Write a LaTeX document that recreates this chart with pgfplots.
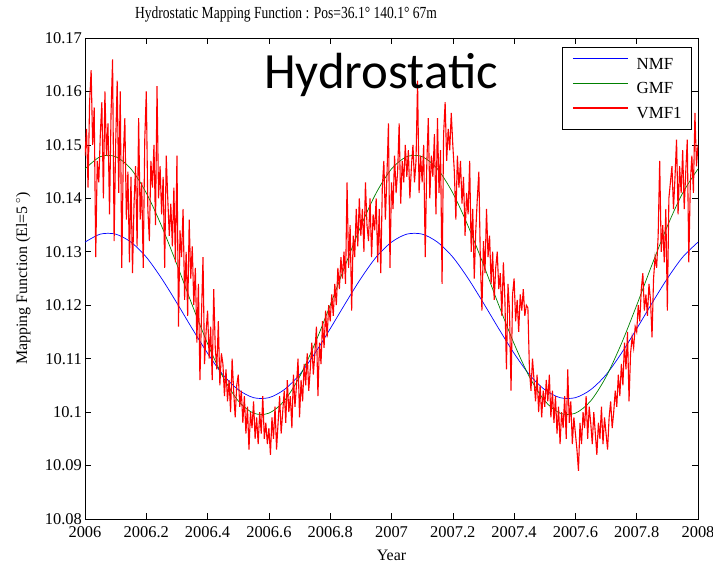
\documentclass[border=0pt]{standalone}
\usepackage{fontspec}
\setmainfont{Liberation Serif}
\newfontfamily\titlefont{Liberation Serif}[FakeStretch=0.8]
\newfontfamily\calibri{Carlito}
\usepackage{pgfplots}
\pgfplotsset{compat=1.18}
\definecolor{mgreen}{rgb}{0,0.5,0}
\definecolor{mred}{rgb}{1,0,0}
\definecolor{mblue}{rgb}{0,0,1}
\begin{document}
\begin{tikzpicture}
\begin{axis}[
  scale only axis, width=613bp, height=481bp,
  xmin=2006, xmax=2008, ymin=10.08, ymax=10.17,
  xtick={2006,2006.2,2006.4,2006.6,2006.8,2007,2007.2,2007.4,2007.6,2007.8,2008},
  xticklabels={2006,2006.2,2006.4,2006.6,2006.8,2007,2007.2,2007.4,2007.6,2007.8,2008},
  ytick={10.08,10.09,10.10,10.11,10.12,10.13,10.14,10.15,10.16,10.17},
  yticklabels={10.08,10.09,10.1,10.11,10.12,10.13,10.14,10.15,10.16,10.17},
  tick align=inside, major tick length=6bp,
  tick style={black, line width=0.6bp},
  axis line style={line width=0.8bp},
  ticklabel style={font=\fontsize{16.5}{16.5}\selectfont},
  xticklabel style={inner sep=0pt, anchor=north, yshift=-7bp},
  yticklabel style={inner sep=0pt, anchor=east, xshift=-3bp},
  title={\titlefont Hydrostatic Mapping Function : Pos=36.1° 140.1° 67m},
  title style={font=\fontsize{17}{17}\selectfont, at={(axis description cs:0.328,1)}, anchor=base, inner sep=0pt, yshift=14bp},
  xlabel={Year},
  xlabel style={font=\fontsize{16}{16}\selectfont, at={(axis description cs:0.5,0)}, anchor=base, inner sep=0pt, yshift=-42bp},
  ylabel={Mapping Function (El=5\,$^{\circ}$)},
  ylabel style={font=\fontsize{16}{16}\selectfont, at={(axis description cs:-0.0946,0.5)}, anchor=base, inner sep=0pt},
  legend style={at={(axis description cs:1,1)}, anchor=north east, xshift=-6bp, yshift=-9bp,
    draw=black, line width=0.6bp, font=\fontsize{17}{17}\selectfont,
    inner xsep=10bp, inner ysep=11bp, row sep=13.5bp, column sep=8bp,
    nodes={inner sep=0pt, text height=11bp, text depth=0bp}, cells={anchor=west}},
  legend image code/.code={\draw[#1, line width=1.2bp] (0bp,5bp) -- (55bp,5bp);},
]

% NMF
\addplot[draw=mblue, line width=0.7bp, smooth] coordinates {
(2006.00,10.1318)(2006.05,10.1333)(2006.10,10.1333)(2006.15,10.1318)(2006.20,10.1290)
(2006.25,10.1250)(2006.30,10.1204)(2006.35,10.1156)(2006.40,10.1110)(2006.45,10.1070)
(2006.50,10.1042)(2006.55,10.1027)(2006.60,10.1027)(2006.65,10.1042)(2006.70,10.1070)
(2006.75,10.1110)(2006.80,10.1156)(2006.85,10.1204)(2006.90,10.1250)(2006.95,10.1290)
(2007.00,10.1318)(2007.05,10.1333)(2007.10,10.1333)(2007.15,10.1318)(2007.20,10.1290)
(2007.25,10.1250)(2007.30,10.1204)(2007.35,10.1156)(2007.40,10.1110)(2007.45,10.1070)
(2007.50,10.1042)(2007.55,10.1027)(2007.60,10.1027)(2007.65,10.1042)(2007.70,10.1070)
(2007.75,10.1110)(2007.80,10.1156)(2007.85,10.1204)(2007.90,10.1250)(2007.95,10.1290)
(2008.00,10.1318)
};
\addlegendentry{NMF}

% GMF
\addplot[draw=mgreen, line width=0.7bp, smooth] coordinates {
(2006.00,10.1455)(2006.05,10.1478)(2006.10,10.1478)(2006.15,10.1455)(2006.20,10.1410)
(2006.25,10.1348)(2006.30,10.1276)(2006.35,10.1200)(2006.40,10.1128)(2006.45,10.1066)
(2006.50,10.1021)(2006.55,10.0998)(2006.60,10.0998)(2006.65,10.1021)(2006.70,10.1066)
(2006.75,10.1128)(2006.80,10.1200)(2006.85,10.1276)(2006.90,10.1348)(2006.95,10.1410)
(2007.00,10.1455)(2007.05,10.1478)(2007.10,10.1478)(2007.15,10.1455)(2007.20,10.1410)
(2007.25,10.1348)(2007.30,10.1276)(2007.35,10.1200)(2007.40,10.1128)(2007.45,10.1066)
(2007.50,10.1021)(2007.55,10.0998)(2007.60,10.0998)(2007.65,10.1021)(2007.70,10.1066)
(2007.75,10.1128)(2007.80,10.1200)(2007.85,10.1276)(2007.90,10.1348)(2007.95,10.1410)
(2008.00,10.1455)
};
\addlegendentry{GMF}

% VMF1
\addplot[draw=mred, line width=1.1bp] coordinates {
(2006.000,10.148)(2006.005,10.153)(2006.010,10.142)(2006.015,10.158)(2006.020,10.164)(2006.025,10.150)(2006.030,10.157)(2006.035,10.129)(2006.040,10.147)(2006.045,10.143)
(2006.050,10.152)(2006.055,10.158)(2006.060,10.140)(2006.065,10.160)(2006.070,10.148)(2006.075,10.154)(2006.080,10.137)(2006.085,10.156)(2006.090,10.166)(2006.095,10.132)
(2006.100,10.150)(2006.105,10.162)(2006.110,10.141)(2006.115,10.160)(2006.120,10.127)(2006.125,10.148)(2006.130,10.155)(2006.135,10.136)(2006.140,10.145)(2006.145,10.128)
(2006.150,10.144)(2006.155,10.126)(2006.160,10.139)(2006.165,10.146)(2006.170,10.131)(2006.175,10.155)(2006.180,10.136)(2006.185,10.143)(2006.190,10.127)(2006.195,10.151)
(2006.200,10.160)(2006.205,10.138)(2006.210,10.132)(2006.215,10.147)(2006.220,10.142)(2006.225,10.150)(2006.230,10.135)(2006.235,10.161)(2006.240,10.140)(2006.245,10.146)
(2006.250,10.137)(2006.255,10.144)(2006.260,10.127)(2006.265,10.148)(2006.270,10.140)(2006.275,10.133)(2006.280,10.139)(2006.285,10.131)(2006.290,10.142)(2006.295,10.128)
(2006.300,10.148)(2006.305,10.116)(2006.310,10.134)(2006.315,10.129)(2006.320,10.138)(2006.325,10.121)(2006.330,10.130)(2006.335,10.118)(2006.340,10.136)(2006.345,10.125)
(2006.350,10.131)(2006.355,10.120)(2006.360,10.127)(2006.365,10.113)(2006.370,10.124)(2006.375,10.106)(2006.380,10.118)(2006.385,10.129)(2006.390,10.109)(2006.395,10.115)
(2006.400,10.119)(2006.405,10.110)(2006.410,10.116)(2006.415,10.106)(2006.420,10.123)(2006.425,10.112)(2006.430,10.108)(2006.435,10.117)(2006.440,10.105)(2006.445,10.111)
(2006.450,10.109)(2006.455,10.103)(2006.460,10.108)(2006.465,10.102)(2006.470,10.106)(2006.475,10.100)(2006.480,10.110)(2006.485,10.104)(2006.490,10.099)(2006.495,10.105)
(2006.500,10.107)(2006.505,10.101)(2006.510,10.104)(2006.515,10.098)(2006.520,10.103)(2006.525,10.096)(2006.530,10.101)(2006.535,10.093)(2006.540,10.100)(2006.545,10.097)
(2006.550,10.102)(2006.555,10.095)(2006.560,10.099)(2006.565,10.094)(2006.570,10.100)(2006.575,10.096)(2006.580,10.103)(2006.585,10.095)(2006.590,10.098)(2006.595,10.094)
(2006.600,10.097)(2006.605,10.092)(2006.610,10.099)(2006.615,10.095)(2006.620,10.101)(2006.625,10.093)(2006.630,10.098)(2006.635,10.103)(2006.640,10.096)(2006.645,10.100)
(2006.650,10.104)(2006.655,10.098)(2006.660,10.106)(2006.665,10.100)(2006.670,10.103)(2006.675,10.097)(2006.680,10.107)(2006.685,10.101)(2006.690,10.105)(2006.695,10.110)
(2006.700,10.099)(2006.705,10.106)(2006.710,10.102)(2006.715,10.109)(2006.720,10.105)(2006.725,10.111)(2006.730,10.104)(2006.735,10.108)(2006.740,10.113)(2006.745,10.107)
(2006.750,10.111)(2006.755,10.116)(2006.760,10.103)(2006.765,10.113)(2006.770,10.109)(2006.775,10.117)(2006.780,10.112)(2006.785,10.119)(2006.790,10.114)(2006.795,10.120)
(2006.800,10.117)(2006.805,10.122)(2006.810,10.118)(2006.815,10.124)(2006.820,10.120)(2006.825,10.127)(2006.830,10.123)(2006.835,10.129)(2006.840,10.125)(2006.845,10.130)
(2006.850,10.124)(2006.855,10.143)(2006.860,10.127)(2006.865,10.135)(2006.870,10.119)(2006.875,10.133)(2006.880,10.129)(2006.885,10.138)(2006.890,10.131)(2006.895,10.140)
(2006.900,10.133)(2006.905,10.138)(2006.910,10.130)(2006.915,10.143)(2006.920,10.135)(2006.925,10.132)(2006.930,10.140)(2006.935,10.129)(2006.940,10.137)(2006.945,10.134)
(2006.950,10.140)(2006.955,10.128)(2006.960,10.138)(2006.965,10.126)(2006.970,10.142)(2006.975,10.147)(2006.980,10.136)(2006.985,10.144)(2006.990,10.154)(2006.995,10.127)
(2007.000,10.143)(2007.005,10.138)(2007.010,10.148)(2007.015,10.141)(2007.020,10.145)(2007.025,10.154)(2007.030,10.139)(2007.035,10.147)(2007.040,10.143)(2007.045,10.150)
(2007.050,10.144)(2007.055,10.149)(2007.060,10.140)(2007.065,10.146)(2007.070,10.150)(2007.075,10.143)(2007.080,10.147)(2007.085,10.162)(2007.090,10.141)(2007.095,10.148)
(2007.100,10.143)(2007.105,10.150)(2007.110,10.129)(2007.115,10.146)(2007.120,10.155)(2007.125,10.140)(2007.130,10.148)(2007.135,10.144)(2007.140,10.152)(2007.145,10.137)
(2007.150,10.155)(2007.155,10.141)(2007.160,10.149)(2007.165,10.124)(2007.170,10.152)(2007.175,10.158)(2007.180,10.147)(2007.185,10.153)(2007.190,10.149)(2007.195,10.156)
(2007.200,10.150)(2007.205,10.145)(2007.210,10.136)(2007.215,10.148)(2007.220,10.142)(2007.225,10.147)(2007.230,10.139)(2007.235,10.144)(2007.240,10.133)(2007.245,10.141)
(2007.250,10.137)(2007.255,10.147)(2007.260,10.130)(2007.265,10.138)(2007.270,10.125)(2007.275,10.134)(2007.280,10.140)(2007.285,10.145)(2007.290,10.128)(2007.295,10.119)
(2007.300,10.132)(2007.305,10.126)(2007.310,10.138)(2007.315,10.129)(2007.320,10.133)(2007.325,10.124)(2007.330,10.130)(2007.335,10.121)(2007.340,10.127)(2007.345,10.130)
(2007.350,10.123)(2007.355,10.126)(2007.360,10.118)(2007.365,10.128)(2007.370,10.121)(2007.375,10.108)(2007.380,10.124)(2007.385,10.119)(2007.390,10.104)(2007.395,10.122)
(2007.400,10.125)(2007.405,10.117)(2007.410,10.121)(2007.415,10.115)(2007.420,10.122)(2007.425,10.119)(2007.430,10.123)(2007.435,10.118)(2007.440,10.120)(2007.445,10.1195)
(2007.450,10.108)(2007.455,10.104)(2007.460,10.110)(2007.465,10.106)(2007.470,10.102)(2007.475,10.107)(2007.480,10.100)(2007.485,10.105)(2007.490,10.099)(2007.495,10.104)
(2007.500,10.101)(2007.505,10.106)(2007.510,10.102)(2007.515,10.107)(2007.520,10.099)(2007.525,10.104)(2007.530,10.098)(2007.535,10.103)(2007.540,10.096)(2007.545,10.101)
(2007.550,10.094)(2007.555,10.100)(2007.560,10.097)(2007.565,10.103)(2007.570,10.095)(2007.575,10.108)(2007.580,10.098)(2007.585,10.102)(2007.590,10.094)(2007.595,10.099)
(2007.600,10.096)(2007.605,10.093)(2007.610,10.089)(2007.615,10.098)(2007.620,10.094)(2007.625,10.100)(2007.630,10.097)(2007.635,10.103)(2007.640,10.095)(2007.645,10.101)
(2007.650,10.098)(2007.655,10.094)(2007.660,10.100)(2007.665,10.096)(2007.670,10.092)(2007.675,10.098)(2007.680,10.095)(2007.685,10.101)(2007.690,10.094)(2007.695,10.099)
(2007.700,10.096)(2007.705,10.093)(2007.710,10.099)(2007.715,10.102)(2007.720,10.097)(2007.725,10.100)(2007.730,10.104)(2007.735,10.101)(2007.740,10.107)(2007.745,10.103)
(2007.750,10.109)(2007.755,10.105)(2007.760,10.113)(2007.765,10.108)(2007.770,10.115)(2007.775,10.102)(2007.780,10.111)(2007.785,10.114)(2007.790,10.112)(2007.795,10.116)
(2007.800,10.115)(2007.805,10.120)(2007.810,10.117)(2007.815,10.123)(2007.820,10.126)(2007.825,10.119)(2007.830,10.122)(2007.835,10.118)(2007.840,10.124)(2007.845,10.121)
(2007.850,10.114)(2007.855,10.125)(2007.860,10.129)(2007.865,10.127)(2007.870,10.133)(2007.875,10.147)(2007.880,10.130)(2007.885,10.135)(2007.890,10.128)(2007.895,10.138)
(2007.900,10.119)(2007.905,10.140)(2007.910,10.143)(2007.915,10.146)(2007.920,10.138)(2007.925,10.144)(2007.930,10.151)(2007.935,10.137)(2007.940,10.146)(2007.945,10.141)
(2007.950,10.149)(2007.955,10.138)(2007.960,10.145)(2007.965,10.151)(2007.970,10.128)(2007.975,10.143)(2007.980,10.148)(2007.985,10.141)(2007.990,10.156)(2007.995,10.146)
(2008.000,10.150)
};
\addlegendentry{VMF1}

\node[anchor=base, inner sep=0pt, font=\calibri\fontsize{51}{51}\selectfont] at (axis cs:2006.966,10.1606) {Hydrostatic};
\end{axis}
\pgfresetboundingbox
\path[use as bounding box] ([shift={(-85bp,-49bp)}]current axis.south west) rectangle ([shift={(15bp,38bp)}]current axis.north east);
\end{tikzpicture}
\end{document}
